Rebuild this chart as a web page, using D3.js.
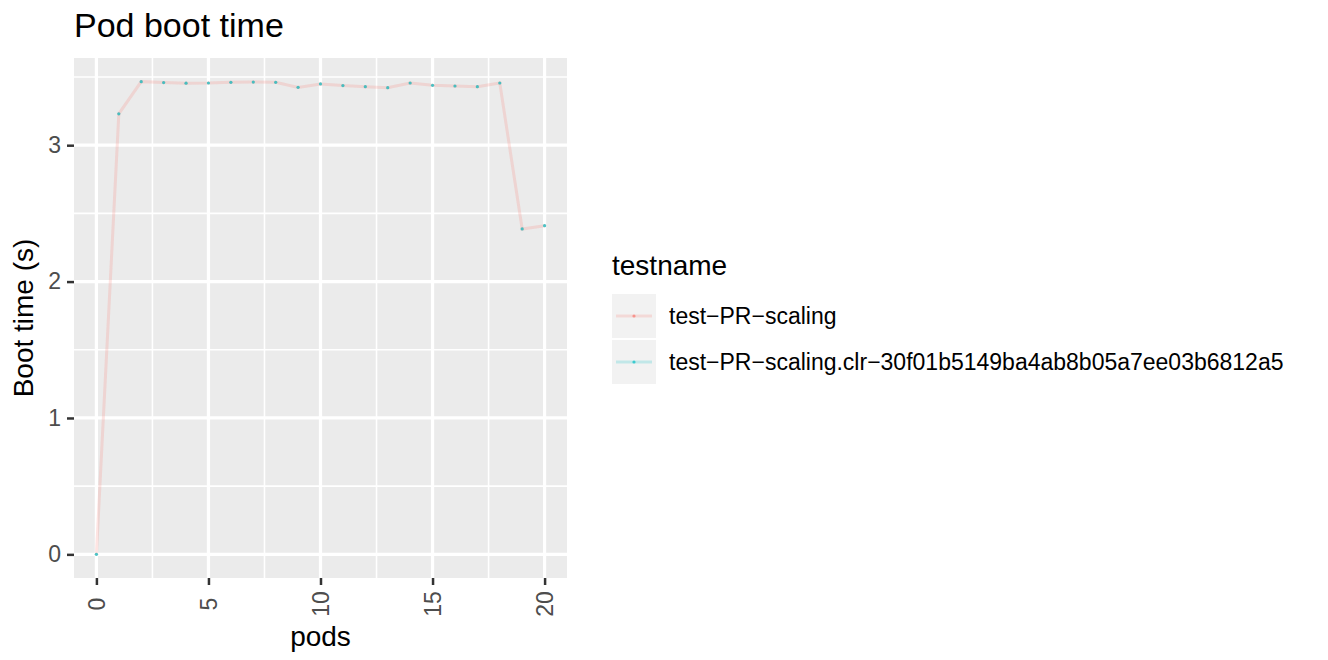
<!DOCTYPE html>
<html>
<head>
<meta charset="utf-8">
<script src="https://cdn.jsdelivr.net/npm/d3@7"></script>
<style>
  body { margin: 0; background: #fff; }
  text { font-family: "Liberation Sans", Arial, sans-serif; }
</style>
</head>
<body>
<script>
// Data
var pods = [0, 1, 2, 3, 4, 5, 6, 7, 8, 9, 10, 11, 12, 13, 14, 15, 16, 17, 18, 19, 20];
var bootScaling = [0, 3.23, 3.466, 3.459, 3.455, 3.456, 3.461, 3.463, 3.461, 3.424, 3.449,
                   3.437, 3.429, 3.422, 3.456, 3.439, 3.434, 3.429, 3.456, 2.386, 2.410];
var bootClr = [0, 3.23, 3.466, 3.459, 3.455, 3.456, 3.461, 3.463, 3.461, 3.424, 3.449,
               3.437, 3.429, 3.422, 3.456, 3.439, 3.434, 3.429, 3.456, 2.386, 2.410];
var testnames = ["test\u2212PR\u2212scaling", "test\u2212PR\u2212scaling.clr\u221230f01b5149ba4ab8b05a7ee03b6812a5"];
var colors = ["#F8766D", "#00BFC4"];
var xTicks = [0, 5, 10, 15, 20];
var yTicks = [0, 1, 2, 3];

var width = 1328;
var height = 660;
var margin = {top: 58, left: 74};
var innerWidth = 493;
var innerHeight = 520;

var svg = d3.select("body")
  .append("svg")
    .attr("width", width)
    .attr("height", height);

// Title
svg.append("text")
    .attr("x", 74)
    .attr("y", 37)
    .attr("font-size", 34)
    .attr("fill", "#000")
    .text("Pod boot time");

var g = svg.append("g")
    .attr("transform", "translate(" + margin.left + ", " + margin.top + ")");

// Scales (ggplot style 5% expansion)
var xMin = d3.min(pods), xMax = d3.max(pods);
var xPad = (xMax - xMin) * 0.05;
var x = d3.scaleLinear()
    .domain([xMin - xPad, xMax + xPad])
    .range([0, innerWidth]);

var yMax = d3.max(bootScaling.concat(bootClr));
var yPad = yMax * 0.05;
var y = d3.scaleLinear()
    .domain([0 - yPad, yMax + yPad])
    .range([innerHeight, 0]);

// Panel
g.append("rect")
    .attr("width", innerWidth)
    .attr("height", innerHeight)
    .attr("fill", "#EBEBEB");

// Minor grid
var xMinor = [2.5, 7.5, 12.5, 17.5];
var yMinor = [0.5, 1.5, 2.5, 3.5];
g.selectAll(".xminor").data(xMinor).enter().append("line")
    .attr("x1", d => x(d)).attr("x2", d => x(d))
    .attr("y1", 0).attr("y2", innerHeight)
    .attr("stroke", "#fff").attr("stroke-width", 1.6);
g.selectAll(".yminor").data(yMinor).enter().append("line")
    .attr("y1", d => y(d)).attr("y2", d => y(d))
    .attr("x1", 0).attr("x2", innerWidth)
    .attr("stroke", "#fff").attr("stroke-width", 1.6);

// Major grid
g.selectAll(".xmajor").data(xTicks).enter().append("line")
    .attr("x1", d => x(d)).attr("x2", d => x(d))
    .attr("y1", 0).attr("y2", innerHeight)
    .attr("stroke", "#fff").attr("stroke-width", 3.2);
g.selectAll(".ymajor").data(yTicks).enter().append("line")
    .attr("y1", d => y(d)).attr("y2", d => y(d))
    .attr("x1", 0).attr("x2", innerWidth)
    .attr("stroke", "#fff").attr("stroke-width", 3.2);

// Axes
var xAxisCall = d3.axisBottom(x).tickValues(xTicks).tickSize(7).tickPadding(6);
var yAxisCall = d3.axisLeft(y).tickValues(yTicks).tickSize(7).tickPadding(6)
    .tickFormat(d3.format("d"));

var xAxisGroup = g.append("g")
    .attr("transform", "translate(0, " + innerHeight + ")")
    .call(xAxisCall);
xAxisGroup.select(".domain").remove();
xAxisGroup.selectAll("line").attr("stroke", "#333").attr("stroke-width", 2.5);
xAxisGroup.selectAll("text")
    .attr("font-size", 23)
    .attr("fill", "#4D4D4D")
    .attr("font-family", "Liberation Sans, Arial, sans-serif")
    .attr("transform", "rotate(-90)")
    .attr("x", -26)
    .attr("y", 0)
    .attr("dy", "0.35em")
    .attr("text-anchor", "middle");

var yAxisGroup = g.append("g").call(yAxisCall);
yAxisGroup.select(".domain").remove();
yAxisGroup.selectAll("line").attr("stroke", "#333").attr("stroke-width", 2.5);
yAxisGroup.selectAll("text")
    .attr("font-size", 23)
    .attr("fill", "#4D4D4D")
    .attr("font-family", "Liberation Sans, Arial, sans-serif");

// Axis labels
g.append("text")
    .attr("x", innerWidth / 2)
    .attr("y", innerHeight + 68)
    .attr("text-anchor", "middle")
    .attr("font-size", 28)
    .text("pods");

g.append("text")
    .attr("transform", "rotate(-90)")
    .attr("x", -(innerHeight / 2))
    .attr("y", -41)
    .attr("text-anchor", "middle")
    .attr("font-size", 28)
    .text("Boot time (s)");

// Line
var line = d3.line()
    .x((d, i) => x(pods[i]))
    .y(d => y(d));

g.append("path")
    .datum(bootScaling)
    .attr("fill", "none")
    .attr("stroke", colors[0])
    .attr("stroke-opacity", 0.2)
    .attr("stroke-width", 3)
    .attr("d", line);

// Points
g.selectAll(".ptA").data(bootScaling).enter().append("circle")
    .attr("cx", (d, i) => x(pods[i]))
    .attr("cy", d => y(d))
    .attr("r", 1.6)
    .attr("fill", colors[0])
    .attr("fill-opacity", 0.3);

g.selectAll(".ptB").data(bootClr).enter().append("circle")
    .attr("cx", (d, i) => x(pods[i]))
    .attr("cy", d => y(d))
    .attr("r", 1.6)
    .attr("fill", colors[1])
    .attr("fill-opacity", 0.7);

// Legend
var legend = svg.append("g")
    .attr("transform", "translate(612, 0)");

legend.append("text")
    .attr("x", 0)
    .attr("y", 275)
    .attr("font-size", 28)
    .text("testname");

var keys = legend.selectAll(".key").data(testnames).enter().append("g")
    .attr("transform", (d, i) => "translate(0, " + (294 + i * 46) + ")");

keys.append("rect")
    .attr("width", 44)
    .attr("height", 44)
    .attr("fill", "#F2F2F2");

keys.append("line")
    .attr("x1", 4).attr("x2", 40)
    .attr("y1", 22).attr("y2", 22)
    .attr("stroke", (d, i) => colors[i])
    .attr("stroke-opacity", 0.2)
    .attr("stroke-width", 3);

keys.append("circle")
    .attr("cx", 22).attr("cy", 22)
    .attr("r", 1.6)
    .attr("fill", (d, i) => colors[i])
    .attr("fill-opacity", 0.7);

keys.append("text")
    .attr("x", 57)
    .attr("y", 22)
    .attr("dy", "0.35em")
    .attr("font-size", 23)
    .text(d => d);
</script>
</body>
</html>
